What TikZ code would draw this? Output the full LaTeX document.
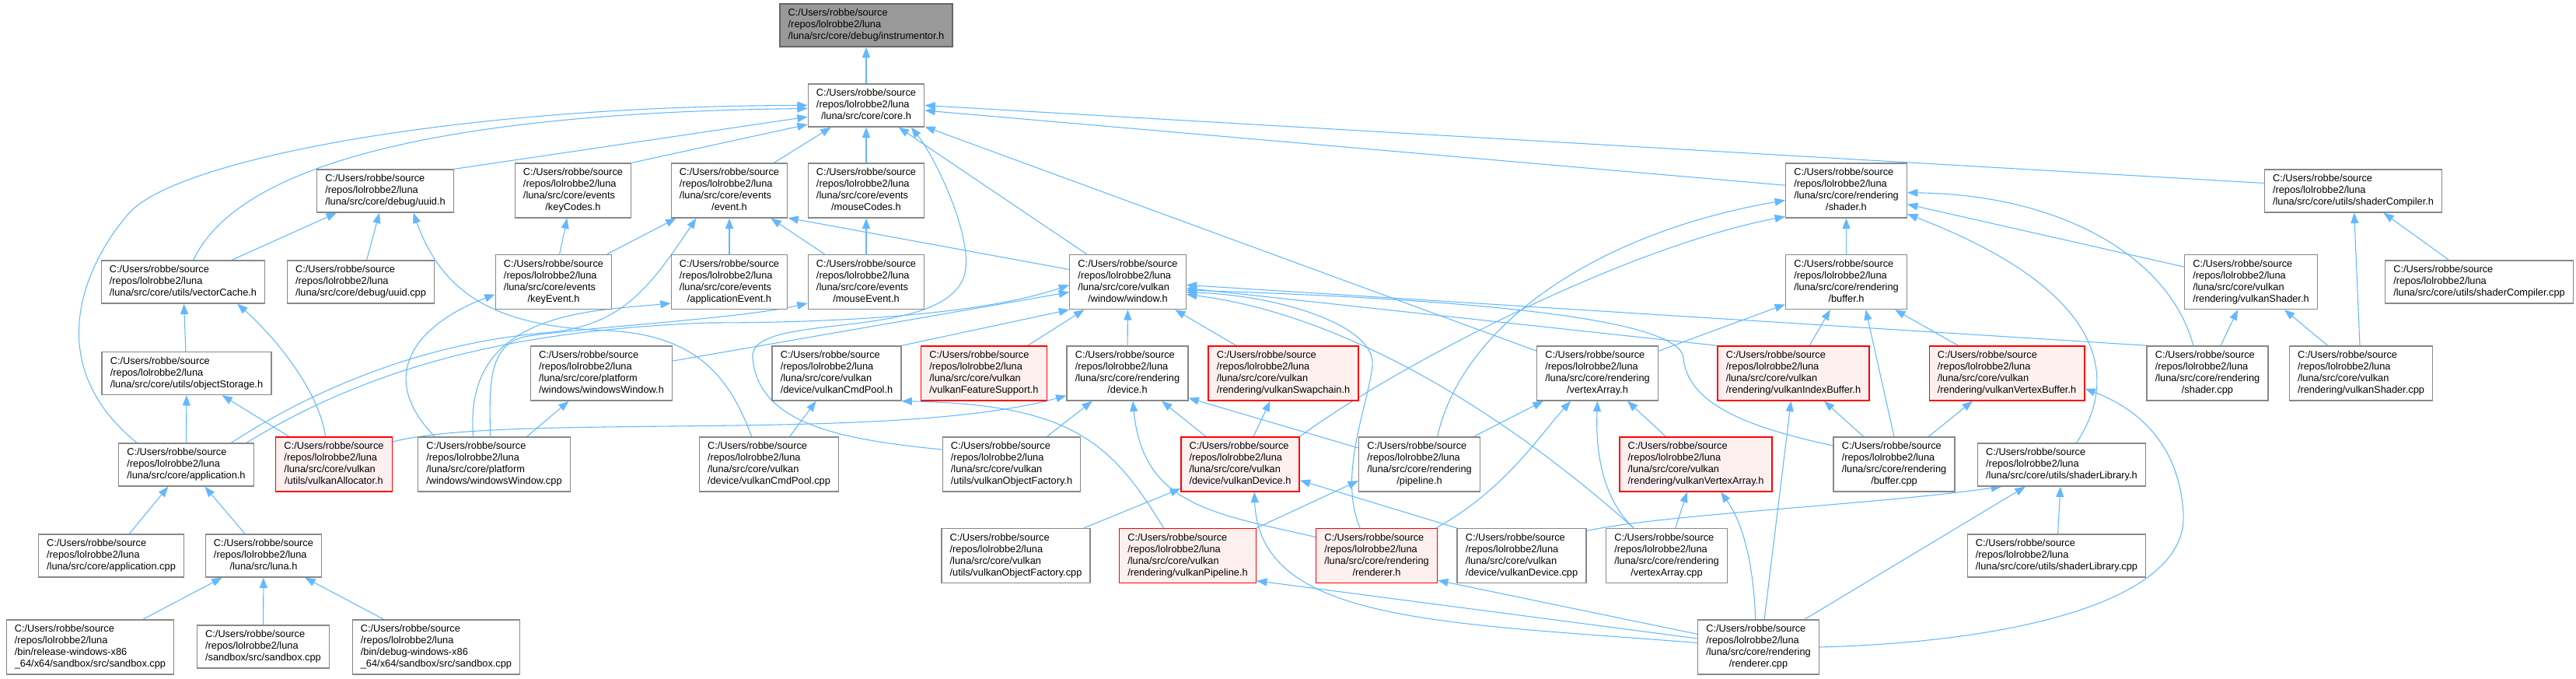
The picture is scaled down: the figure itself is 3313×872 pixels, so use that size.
\documentclass[tikz,border=0pt]{standalone}
\usepackage{fontspec}
\setmainfont{Liberation Sans}
\usetikzlibrary{arrows.meta,backgrounds}
\definecolor{elszin}{HTML}{63B8FF}
\definecolor{keret}{HTML}{888888}
\definecolor{pirfill}{HTML}{FFF0F0}
% file label: left aligned lines, last line centred
\newcommand{\utv}[2]{\begin{tabular}{@{}l@{}}C:/Users/robbe/source\\/repos/lolrobbe2/luna#1\\\multicolumn{1}{@{}c@{}}{#2}\end{tabular}}
\tikzset{
  fajl/.style={draw=keret,fill=white,line width=1pt,inner xsep=8pt,inner ysep=3.75pt,
    font=\fontsize{9.6}{11.25}\selectfont},
  piros/.style={fajl,draw=red,fill=pirfill},
  cel/.style={fajl,draw=black!60,fill=black!40},
  el/.style={draw=elszin,line width=0.8pt,-{Triangle[length=10pt,width=7.5pt]}},
}
\begin{document}
\begin{tikzpicture}[x=0.75pt,y=-0.75pt]
  \useasboundingbox (0,0) rectangle (3313,872);
  % top
  \node[cel] (instrumentor) at (1114,32.5) {\utv{}{/luna/src/core/debug/instrumentor.h}};
  \node[fajl] (core) at (1114,135.5) {\utv{}{/luna/src/core/core.h}};
  % rank 3
  \node[fajl] (uuid) at (495.5,245.5) {\utv{}{/luna/src/core/debug/uuid.h}};
  \node[fajl] (keyCodes) at (737,245) {\utv{\\/luna/src/core/events}{/keyCodes.h}};
  \node[fajl] (event) at (938,245) {\utv{\\/luna/src/core/events}{/event.h}};
  \node[fajl] (mouseCodes) at (1114,245) {\utv{\\/luna/src/core/events}{/mouseCodes.h}};
  \node[fajl] (shader) at (2374.5,245) {\utv{\\/luna/src/core/rendering}{/shader.h}};
  \node[fajl] (shaderCompiler) at (3026.5,245.5) {\utv{}{/luna/src/core/utils/shaderCompiler.h}};
  % rank 4
  \node[fajl] (vectorCache) at (235.5,362.5) {\utv{}{/luna/src/core/utils/vectorCache.h}};
  \node[fajl] (uuidcpp) at (464,362.5) {\utv{}{/luna/src/core/debug/uuid.cpp}};
  \node[fajl] (keyEvent) at (712,362.5) {\utv{\\/luna/src/core/events}{/keyEvent.h}};
  \node[fajl] (applicationEvent) at (938,362.5) {\utv{\\/luna/src/core/events}{/applicationEvent.h}};
  \node[fajl] (mouseEvent) at (1114,362.5) {\utv{\\/luna/src/core/events}{/mouseEvent.h}};
  \node[fajl] (window) at (1450.5,362.5) {\utv{\\/luna/src/core/vulkan}{/window/window.h}};
  \node[fajl] (buffer) at (2374.5,362.5) {\utv{\\/luna/src/core/rendering}{/buffer.h}};
  \node[fajl] (vulkanShader) at (2895,362.5) {\utv{\\/luna/src/core/vulkan}{/rendering/vulkanShader.h}};
  \node[fajl] (shaderCompilercpp) at (3188.5,362.5) {\utv{}{/luna/src/core/utils/shaderCompiler.cpp}};
  % rank 5
  \node[fajl] (objectStorage) at (240,480) {\utv{}{/luna/src/core/utils/objectStorage.h}};
  \node[fajl] (windowsWindowh) at (773.5,480) {\utv{\\/luna/src/core/platform}{/windows/windowsWindow.h}};
  \node[fajl] (vulkanCmdPool) at (1076,480) {\utv{\\/luna/src/core/vulkan}{/device/vulkanCmdPool.h}};
  \node[piros] (vulkanFeatureSupport) at (1265.5,480) {\utv{\\/luna/src/core/vulkan}{/vulkanFeatureSupport.h}};
  \node[fajl] (device) at (1450,480) {\utv{\\/luna/src/core/rendering}{/device.h}};
  \node[piros] (vulkanSwapchain) at (1650.5,480) {\utv{\\/luna/src/core/vulkan}{/rendering/vulkanSwapchain.h}};
  \node[fajl] (vertexArray) at (2054.5,480) {\utv{\\/luna/src/core/rendering}{/vertexArray.h}};
  \node[piros] (vulkanIndexBuffer) at (2306.5,480) {\utv{\\/luna/src/core/vulkan}{/rendering/vulkanIndexBuffer.h}};
  \node[piros] (vulkanVertexBuffer) at (2581,480) {\utv{\\/luna/src/core/vulkan}{/rendering/vulkanVertexBuffer.h}};
  \node[fajl] (shadercpp) at (2839,480) {\utv{\\/luna/src/core/rendering}{/shader.cpp}};
  \node[fajl] (vulkanShadercpp) at (3036.5,480) {\utv{\\/luna/src/core/vulkan}{/rendering/vulkanShader.cpp}};
  % rank 6
  \node[fajl] (application) at (239.5,597.5) {\utv{}{/luna/src/core/application.h}};
  \node[piros] (vulkanAllocator) at (429.5,597) {\utv{\\/luna/src/core/vulkan}{/utils/vulkanAllocator.h}};
  \node[fajl] (windowsWindowcpp) at (635.5,597) {\utv{\\/luna/src/core/platform}{/windows/windowsWindow.cpp}};
  \node[fajl] (vulkanCmdPoolcpp) at (989,597) {\utv{\\/luna/src/core/vulkan}{/device/vulkanCmdPool.cpp}};
  \node[fajl] (vulkanObjectFactory) at (1301,597) {\utv{\\/luna/src/core/vulkan}{/utils/vulkanObjectFactory.h}};
  \node[piros] (vulkanDevice) at (1595,597) {\utv{\\/luna/src/core/vulkan}{/device/vulkanDevice.h}};
  \node[fajl] (pipeline) at (1825.5,597) {\utv{\\/luna/src/core/rendering}{/pipeline.h}};
  \node[piros] (vulkanVertexArray) at (2181,597) {\utv{\\/luna/src/core/vulkan}{/rendering/vulkanVertexArray.h}};
  \node[fajl] (buffercpp) at (2436,597) {\utv{\\/luna/src/core/rendering}{/buffer.cpp}};
  \node[fajl] (shaderLibrary) at (2651.5,597.5) {\utv{}{/luna/src/core/utils/shaderLibrary.h}};
  % rank 7
  \node[fajl] (applicationcpp) at (143,714.5) {\utv{}{/luna/src/core/application.cpp}};
  \node[fajl] (luna) at (339,714.5) {\utv{}{/luna/src/luna.h}};
  \node[fajl] (vulkanObjectFactorycpp) at (1306.5,714.5) {\utv{\\/luna/src/core/vulkan}{/utils/vulkanObjectFactory.cpp}};
  \node[piros] (vulkanPipeline) at (1527.5,714.5) {\utv{\\/luna/src/core/vulkan}{/rendering/vulkanPipeline.h}};
  \node[piros] (renderer) at (1770.5,714.5) {\utv{\\/luna/src/core/rendering}{/renderer.h}};
  \node[fajl] (vulkanDevicecpp) at (1957,714.5) {\utv{\\/luna/src/core/vulkan}{/device/vulkanDevice.cpp}};
  \node[fajl] (vertexArraycpp) at (2143.5,714.5) {\utv{\\/luna/src/core/rendering}{/vertexArray.cpp}};
  \node[fajl] (shaderLibrarycpp) at (2645,714.5) {\utv{}{/luna/src/core/utils/shaderLibrary.cpp}};
  % rank 8
  \node[fajl] (sandboxrel) at (116,832) {\utv{\\/bin/release-windows-x86}{\_64/x64/sandbox/src/sandbox.cpp}};
  \node[fajl] (sandbox) at (338.5,831.5) {\utv{}{/sandbox/src/sandbox.cpp}};
  \node[fajl] (sandboxdbg) at (561,832) {\utv{\\/bin/debug-windows-x86}{\_64/x64/sandbox/src/sandbox.cpp}};
  \node[fajl] (renderercpp) at (2261.5,832) {\utv{\\/luna/src/core/rendering}{/renderer.cpp}};

  \begin{scope}[on background layer]
    % into core.h
    \draw[el] (core) -- (instrumentor);
    \draw[el] (vectorCache.65) .. controls (310,205) and (588,145) .. (core.183);
    \draw[el] ([xshift=18pt]application.north west) .. controls (54,470) and (105,345) .. (165,275)
      .. controls (225,205) and (588,136) .. (core.west);
    \draw[el] (uuid.north east) -- (core.191);
    \draw[el] (keyCodes.north east) -- (core.-162);
    \draw[el] (event) -- (core);
    \draw[el] (mouseCodes) -- (core);
    \draw[el] (window) -- (core);
    \draw[el] (vertexArray) -- (core);
    \draw[el] (shader) -- (core);
    \draw[el] (shaderCompiler.175) -- (core.east);
    \draw[el] (vulkanObjectFactory.168) .. controls (1080,565) and (975,545) .. (968,460)
      .. controls (963,400) and (1200,440) .. (1238,360) .. controls (1258,318) and (1205,205) .. (core.-26);
    % uuid.h
    \draw[el] (vectorCache) -- (uuid);
    \draw[el] (uuidcpp) -- (uuid);
    \draw[el] (vulkanCmdPoolcpp.122) .. controls (940,490) and (900,430) .. (780,425)
      .. controls (640,420) and (570,380) .. (uuid.-38);
    % events
    \draw[el] (keyEvent) -- (keyCodes);
    \draw[el] (keyEvent) -- (event);
    \draw[el] (applicationEvent) -- (event);
    \draw[el] (mouseEvent) -- (event);
    \draw[el] (mouseEvent) -- (mouseCodes);
    \draw[el] (window.168) -- (event.-25);
    \draw[el] (application.26) .. controls (420,490) and (560,440) .. (700,428)
      .. controls (800,420) and (835,370) .. (event.-140);
    \draw[el] (windowsWindowcpp.155) .. controls (480,480) and (540,415) .. (keyEvent.192);
    \draw[el] (windowsWindowcpp.127) .. controls (595,400) and (760,400) .. (applicationEvent.-160);
    \draw[el] (windowsWindowcpp.98) .. controls (630,500) and (625,440) .. (680,432)
      .. controls (760,420) and (950,410) .. (mouseEvent.-160);
    % utils and application
    \draw[el] (objectStorage) -- (vectorCache);
    \draw[el] (vulkanAllocator.107) .. controls (410,500) and (350,430) .. (vectorCache.-22);
    \draw[el] (vulkanAllocator) -- (objectStorage);
    \draw[el] (application) -- (objectStorage);
    \draw[el] (applicationcpp) -- (application);
    \draw[el] (luna) -- (application);
    \draw[el] (sandboxrel) -- (luna);
    \draw[el] (sandbox) -- (luna);
    \draw[el] (sandboxdbg) -- (luna);
    % window.h
    \draw[el] (windowsWindowcpp) -- (windowsWindowh);
    \draw[el] (windowsWindowh) -- (window);
    \draw[el] (application.20) .. controls (480,470) and (660,425) .. (910,415)
      .. controls (1150,415) and (1290,395) .. (window.183);
    \draw[el] (vulkanCmdPool.north east) -- (window.south west);
    \draw[el] (vulkanFeatureSupport) -- (window);
    \draw[el] (device) -- (window);
    \draw[el] (vulkanSwapchain) -- (window);
    \draw[el] (shadercpp.155) -- (window.-3);
    \draw[el] (vulkanIndexBuffer.160) -- (window.-6);
    \draw[el] (buffercpp.163) .. controls (2250,550) and (2170,520) .. (2165,460)
      .. controls (2160,410) and (1900,385) .. (window.-8);
    \draw[el] (renderer.121) .. controls (1720,610) and (1760,520) .. (1765,470)
      .. controls (1770,420) and (1650,380) .. (window.-10);
    \draw[el] (vertexArraycpp.140) .. controls (1900,500) and (1700,400) .. (window.-12);
    % device.h
    \draw[el] (vulkanObjectFactory) -- (device);
    \draw[el] (vulkanDevice) -- (device);
    \draw[el] (pipeline.165) -- (device.-22);
    \draw[el] (renderer.163) .. controls (1560,660) and (1470,650) .. (device.-79);
    \draw[el] (vulkanAllocator.21) .. controls (650,530) and (1150,570) .. (device.-160);
    % command pool
    \draw[el] (vulkanCmdPoolcpp) -- (vulkanCmdPool);
    \draw[el] (vulkanPipeline.131) .. controls (1430,570) and (1380,520) .. (vulkanCmdPool.south east);
    % vulkanDevice.h
    \draw[el] (vulkanObjectFactorycpp) -- (vulkanDevice);
    \draw[el] (vulkanDevicecpp.north west) -- (vulkanDevice.-15);
    \draw[el] (renderercpp.176) .. controls (1850,800) and (1620,800) .. (vulkanDevice.-63);
    \draw[el] (vulkanDevice) -- (vulkanSwapchain);
    \draw[el] (vulkanDevice.north east) .. controls (1780,480) and (2080,320) .. (shader.-157);
    % pipeline, vertex arrays
    \draw[el] (pipeline.57) .. controls (1880,420) and (2050,300) .. (shader.-171);
    \draw[el] (pipeline) -- (vertexArray);
    \draw[el] (vulkanPipeline.north east) -- (pipeline.-165);
    \draw[el] (renderer.25) .. controls (1935,630) and (1980,560) .. (vertexArray.-134);
    \draw[el] (vertexArraycpp.140) .. controls (2060,640) and (2052,580) .. (vertexArray.south);
    \draw[el] (vulkanVertexArray) -- (vertexArray);
    \draw[el] (vertexArray) -- (buffer);
    \draw[el] (vertexArraycpp) -- (vulkanVertexArray);
    \draw[el] (renderercpp.96) .. controls (2255,720) and (2240,670) .. (vulkanVertexArray.-48);
    % buffers
    \draw[el] (renderercpp.78) -- (vulkanIndexBuffer.-95);
    \draw[el] (buffercpp) -- (vulkanIndexBuffer);
    \draw[el] (vulkanIndexBuffer) -- (buffer);
    \draw[el] (buffercpp.north) -- (buffer.-55);
    \draw[el] (vulkanVertexBuffer) -- (buffer);
    \draw[el] (buffercpp) -- (vulkanVertexBuffer);
    \draw[el] (renderercpp.east) .. controls (2600,825) and (2815,770) .. (2808,660)
      .. controls (2803,580) and (2760,530) .. (vulkanVertexBuffer.-11);
    % renderer.cpp
    \draw[el] (renderercpp.168) -- (renderer.-22);
    \draw[el] (renderercpp.172) -- (vulkanPipeline.-20);
    \draw[el] (renderercpp) -- (shaderLibrary);
    % shader library
    \draw[el] (shaderLibrarycpp) -- (shaderLibrary);
    \draw[el] (vulkanDevicecpp.21) .. controls (2150,660) and (2400,650) .. (shaderLibrary.-160);
    \draw[el] (shaderLibrary.56) .. controls (2730,480) and (2700,370) .. (shader.-21);
    % shader.h
    \draw[el] (buffer) -- (shader);
    \draw[el] (vulkanShader) -- (shader);
    \draw[el] (shadercpp.117) .. controls (2790,330) and (2650,250) .. (shader.-2);
    \draw[el] (shadercpp) -- (vulkanShader);
    \draw[el] (vulkanShadercpp) -- (vulkanShader);
    \draw[el] (vulkanShadercpp) -- (shaderCompiler);
    \draw[el] (shaderCompilercpp) -- (shaderCompiler);
  \end{scope}
\end{tikzpicture}
\end{document}
